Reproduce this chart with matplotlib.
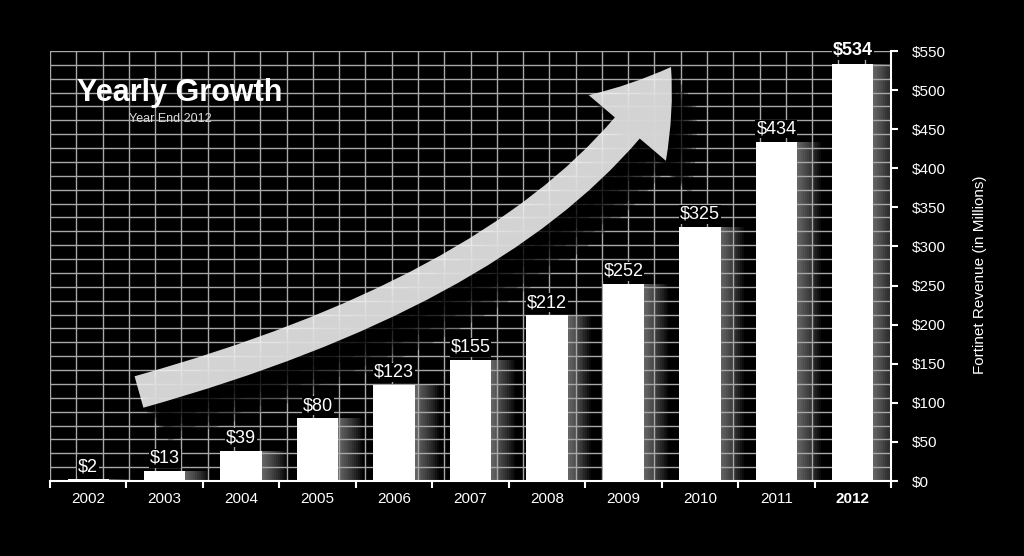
import numpy as np
import matplotlib
matplotlib.use("Agg")
import matplotlib.pyplot as plt
from matplotlib.patches import FancyArrowPatch
from matplotlib.path import Path
import matplotlib.patheffects as pe

# data
years = ["2002", "2003", "2004", "2005", "2006", "2007", "2008", "2009", "2010", "2011", "2012"]
revenue = [2, 13, 39, 80, 123, 155, 212, 252, 325, 434, 534]
value_labels = ["$2", "$13", "$39", "$80", "$123", "$155", "$212", "$252", "$325", "$434", "$534"]
y_ticks = [0, 50, 100, 150, 200, 250, 300, 350, 400, 450, 500, 550]

plt.rcParams["font.family"] = ["Liberation Sans", "DejaVu Sans"]

fig = plt.figure(figsize=(10.24, 5.56), dpi=100, facecolor="black")
ax = fig.add_axes([50 / 1024, 75 / 556, 841 / 1024, 430 / 556])
ax.set_facecolor("black")

x = np.arange(len(years))
ax.set_xlim(-0.5, len(years) - 0.5)
ax.set_ylim(0, 550)

# background grid (decorative)
for gx in np.linspace(-0.5, len(years) - 0.5, 33):
    ax.axvline(gx, color="#a8a8a8", lw=1, zorder=2)
for gy in np.linspace(0, 550, 32):
    ax.axhline(gy, color="#a8a8a8", lw=1, zorder=2)

# soft glow to the right of bars
for k in range(1, 13):
    ax.bar(x + k * 0.026, revenue, width=0.54, color="white", alpha=0.045,
           edgecolor="none", zorder=1)

ax.bar(x, revenue, width=0.54, color="white", edgecolor="none", zorder=3)

for i, (v, lab) in enumerate(zip(revenue, value_labels)):
    ax.annotate(lab, (i, v), xytext=(0, 3), textcoords="offset points",
                ha="center", va="bottom", color="white", fontsize=13,
                fontweight="bold" if i == len(years) - 1 else "normal", zorder=5,
                bbox=dict(boxstyle="square,pad=0.05", facecolor="black", edgecolor="none"))

# growth arrow
arrow_path = Path([(0.1058, 0.2070), (0.5898, 0.4721), (0.7384, 0.9628)],
                  [Path.MOVETO, Path.CURVE3, Path.CURVE3])
arrow = FancyArrowPatch(path=arrow_path, transform=ax.transAxes,
                        arrowstyle="simple,head_length=54,head_width=73,tail_width=23.5",
                        mutation_scale=1, facecolor="#f2f2f2", edgecolor="none",
                        alpha=0.88, zorder=4)
shadows = [pe.SimplePatchShadow(offset=(3 * k, -4 * k), shadow_rgbFace="black", alpha=0.3)
           for k in range(6, 0, -1)]
arrow.set_path_effects(shadows + [pe.Normal()])
ax.add_patch(arrow)

# titles
ax.text(0.032, 0.884, "Yearly Growth", transform=ax.transAxes, color="white",
        fontsize=22, fontweight="bold", va="baseline", ha="left", zorder=6)
ax.text(0.094, 0.835, "Year End 2012", transform=ax.transAxes, color="#dddddd",
        fontsize=9, va="baseline", ha="left", zorder=6)

# axes styling
for side in ["left", "top"]:
    ax.spines[side].set_visible(False)
for side in ["right", "bottom"]:
    ax.spines[side].set_color("white")
    ax.spines[side].set_linewidth(1.5)
    ax.spines[side].set_zorder(6)

ax.yaxis.tick_right()
ax.set_yticks(y_ticks)
ax.set_yticklabels(["$%d" % t for t in y_ticks])
ax.tick_params(axis="y", colors="white", labelsize=11, length=5, width=1.5,
               direction="out", pad=10)

ax.set_xticks(np.arange(-0.5, len(years)))
ax.set_xticklabels([])
ax.set_xticks(x, minor=True)
ax.set_xticklabels(years, minor=True)
ax.tick_params(axis="x", which="major", colors="white", length=5, width=1.5, direction="out")
ax.tick_params(axis="x", which="minor", colors="white", length=0, labelsize=11, pad=8)
ax.get_xticklabels(minor=True)[-1].set_fontweight("bold")

fig.text(980 / 1024, 1 - 275 / 556, "Fortinet Revenue (in Millions)", rotation=90,
         ha="center", va="center", color="white", fontsize=11)

fig.savefig("out.png", dpi=100, facecolor="black")
